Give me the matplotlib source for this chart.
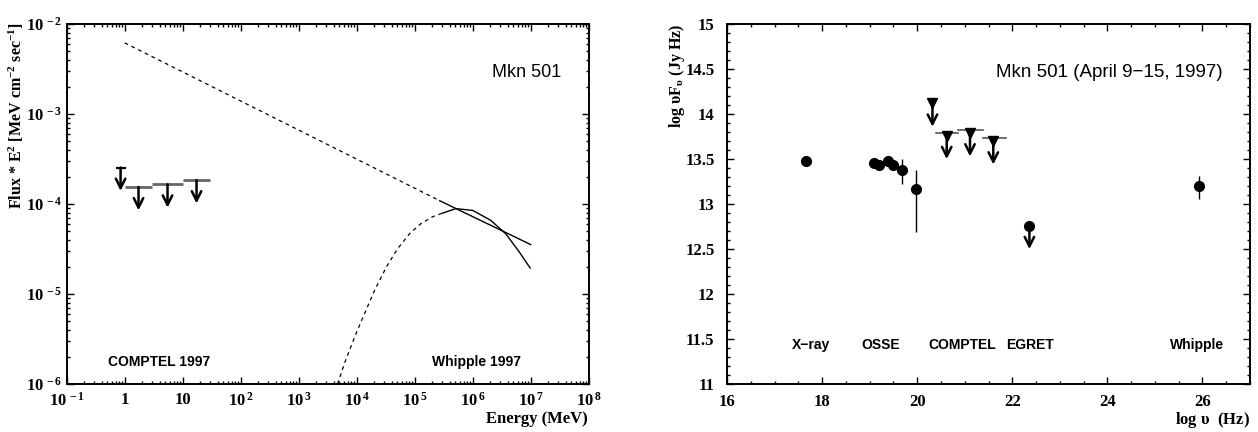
import numpy as np
import matplotlib
matplotlib.use("Agg")
from matplotlib import pyplot
from matplotlib.ticker import FixedLocator, MultipleLocator, LogLocator, NullFormatter

pyplot.rcParams['mathtext.fontset'] = 'custom'
pyplot.rcParams['mathtext.rm'] = 'Liberation Serif:bold'
pyplot.rcParams['mathtext.it'] = 'Liberation Serif:bold'
pyplot.rcParams['mathtext.bf'] = 'Liberation Serif:bold'
pyplot.rcParams['mathtext.default'] = 'rm'
pyplot.rcParams['font.family'] = ['Liberation Serif', 'DejaVu Serif']
pyplot.rcParams['font.weight'] = 'bold'

SANS = ['Liberation Sans', 'DejaVu Sans']

# ---- left panel data (Energy in MeV, Flux*E^2) ----
comptel_emin = [0.85, 1.0, 3.0, 10.0]
comptel_emax = [0.85, 3.0, 10.0, 30.0]
comptel_ul = [2.55e-4, 1.55e-4, 1.66e-4, 1.85e-4]

powerlaw_e = [1.0, 2.7e5, 1.0e7]
powerlaw_flux = [6.2e-3, 1.09e-4, 3.55e-5]

# log10 E, log10 flux
whipple_model_loge = [3.67, 3.80, 4.00, 4.16, 4.30, 4.51, 4.70, 4.91, 5.10, 5.31, 5.48]
whipple_model_logf = [-6.0, -5.75, -5.42, -5.18, -4.97, -4.70, -4.50, -4.33, -4.22, -4.14, -4.10]
whipple_spec_loge = [5.48, 5.71, 6.0, 6.31, 6.57, 6.80, 6.99]
whipple_spec_logf = [-4.10, -4.05, -4.07, -4.18, -4.33, -4.53, -4.71]

# ---- right panel data (log nu, log nuFnu) ----
det_lognu = [17.65, 19.09, 19.19, 19.38, 19.49, 19.68, 19.97, 25.93]
det_logf = [13.48, 13.46, 13.43, 13.48, 13.43, 13.38, 13.17, 13.20]
det_err_lo = [0.0, 0.0, 0.0, 0.0, 0.0, 0.16, 0.48, 0.14]
det_err_hi = [0.0, 0.0, 0.0, 0.0, 0.0, 0.12, 0.21, 0.11]

ul_lognu = [20.32, 20.62, 21.11, 21.60]
ul_lo = [20.32, 20.39, 20.86, 21.38]
ul_hi = [20.32, 20.86, 21.38, 21.86]
ul_logf = [14.15, 13.79, 13.82, 13.73]

egret_lognu = [22.36]
egret_logf = [12.76]

band_labels = ['X\u2212ray', 'OSSE', 'COMPTEL', 'EGRET', 'Whipple']
band_x = [17.76, 19.23, 20.94, 22.38, 25.89]

fig = pyplot.figure(figsize=(12.58, 4.32), dpi=100)
ax1 = fig.add_axes([0.053, 0.111, 0.415, 0.833])
ax2 = fig.add_axes([0.578, 0.111, 0.4156, 0.833])

arrow = dict(arrowstyle='->', lw=1.8, color='black', mutation_scale=17,
             shrinkA=0, shrinkB=0)

# left panel
ax1.set_xscale('log')
ax1.set_yscale('log')
ax1.set_xlim(1e-1, 1e8)
ax1.set_ylim(1e-6, 1e-2)

ax1.plot(powerlaw_e[:2], powerlaw_flux[:2], color='black', lw=0.9, ls=(0, (3, 3)))
ax1.plot(powerlaw_e[1:], powerlaw_flux[1:], color='black', lw=1.0)
ax1.plot(10 ** np.array(whipple_model_loge), 10 ** np.array(whipple_model_logf),
         color='black', lw=0.9, ls=(0, (3, 3)))
ax1.plot(10 ** np.array(whipple_spec_loge), 10 ** np.array(whipple_spec_logf),
         color='black', lw=1.0)

for lo, hi, f in zip(comptel_emin, comptel_emax, comptel_ul):
    if hi > lo:
        ec = np.sqrt(lo * hi)
        ax1.plot([lo, hi], [f, f], color='#666666', lw=2.0, solid_capstyle='butt')
    else:
        ec = lo
        ax1.plot([ec], [f], marker='_', ms=7, mew=1.6, color='black')
    ax1.annotate('', xy=(ec, f * 0.55), xytext=(ec, f), arrowprops=arrow)

ax1.text(0.948, 0.867, 'Mkn 501', transform=ax1.transAxes, ha='right', va='center',
         family=SANS, fontweight='normal', fontsize=13)
ax1.text(0.08, 0.062, 'COMPTEL 1997', transform=ax1.transAxes, ha='left', va='center',
         family=SANS, fontweight='bold', fontsize=10)
ax1.text(0.70, 0.062, 'Whipple 1997', transform=ax1.transAxes, ha='left', va='center',
         family=SANS, fontweight='bold', fontsize=10)

xticks = [10.0 ** k for k in range(-1, 9)]
xlabels = [r'$10^{\,-1}$', '1', '10'] + [r'$10^{\,%d}$' % k for k in range(2, 9)]
ax1.xaxis.set_major_locator(FixedLocator(xticks))
ax1.set_xticklabels(xlabels)
ax1.xaxis.set_minor_locator(LogLocator(base=10, subs=np.arange(2, 10), numticks=20))
ax1.xaxis.set_minor_formatter(NullFormatter())
yticks = [10.0 ** k for k in range(-6, -1)]
ax1.yaxis.set_major_locator(FixedLocator(yticks))
ax1.set_yticklabels([r'$10^{\,%d}$' % k for k in range(-6, -1)])
ax1.yaxis.set_minor_locator(LogLocator(base=10, subs=np.arange(2, 10), numticks=20))
ax1.yaxis.set_minor_formatter(NullFormatter())

fig.text(16 / 1258, 1 - 22 / 432, r'Flux * E$^{2}$ [MeV cm$^{-2}$ sec$^{-1}$]',
         rotation=90, ha='center', va='top', fontsize=11.5, fontweight='bold')
fig.text(588 / 1258, 1 - 411 / 432, 'Energy (MeV)', ha='right', va='top',
         fontsize=12, fontweight='bold')

# right panel
ax2.set_xlim(16, 27)
ax2.set_ylim(11, 15)
ax2.errorbar(det_lognu, det_logf, yerr=[det_err_lo, det_err_hi], fmt='o', color='black',
             ms=7, elinewidth=1.0, capsize=0)
for x, lo, hi, f in zip(ul_lognu, ul_lo, ul_hi, ul_logf):
    if hi > lo:
        ax2.plot([lo, hi], [f, f], color='#555555', lw=1.2)
    ax2.plot([x], [f - 0.03], marker='v', ms=6.5, color='black')
    ax2.annotate('', xy=(x, f - 0.29), xytext=(x, f), arrowprops=arrow)
for x, f in zip(egret_lognu, egret_logf):
    ax2.plot([x], [f], marker='o', ms=7, color='black')
    ax2.annotate('', xy=(x, f - 0.26), xytext=(x, f), arrowprops=arrow)

for lab, x in zip(band_labels, band_x):
    ax2.text(x, 11.43, lab, ha='center', va='center', family=SANS,
             fontweight='bold', fontsize=10)
ax2.text(0.948, 0.867, 'Mkn 501 (April 9\u221215, 1997)', transform=ax2.transAxes,
         ha='right', va='center', family=SANS, fontweight='normal',
         fontsize=13.5)

ax2.xaxis.set_major_locator(FixedLocator([16, 18, 20, 22, 24, 26]))
ax2.xaxis.set_minor_locator(MultipleLocator(0.5))
ax2.yaxis.set_major_locator(MultipleLocator(0.5))
ax2.yaxis.set_minor_locator(MultipleLocator(0.1))
ax2.set_yticklabels([('%g' % v) for v in ax2.get_yticks()])

fig.text(677 / 1258, 1 - 24 / 432, r'log $\upsilon$F$_{\upsilon}$ (Jy Hz)',
         rotation=90, ha='center', va='top', fontsize=11.5, fontweight='bold')
fig.text(1250 / 1258, 1 - 420 / 432, r'log $\upsilon$  (Hz)', ha='right', va='center',
         fontsize=12, fontweight='bold')

for ax in (ax1, ax2):
    for s in ax.spines.values():
        s.set_linewidth(1.4)
    ax.tick_params(which='both', direction='in', top=True, right=True, width=1.0,
                   labelsize=12)
    ax.tick_params(which='major', length=5)
    ax.tick_params(which='minor', length=2.5)
    for lab in ax.get_xticklabels() + ax.get_yticklabels():
        lab.set_fontweight('bold')
ax1.tick_params(axis='x', pad=5.5)
ax1.tick_params(axis='y', pad=3)
ax2.tick_params(axis='x', pad=7)
ax2.tick_params(axis='y', pad=9)

fig.savefig('out.png', dpi=100)
